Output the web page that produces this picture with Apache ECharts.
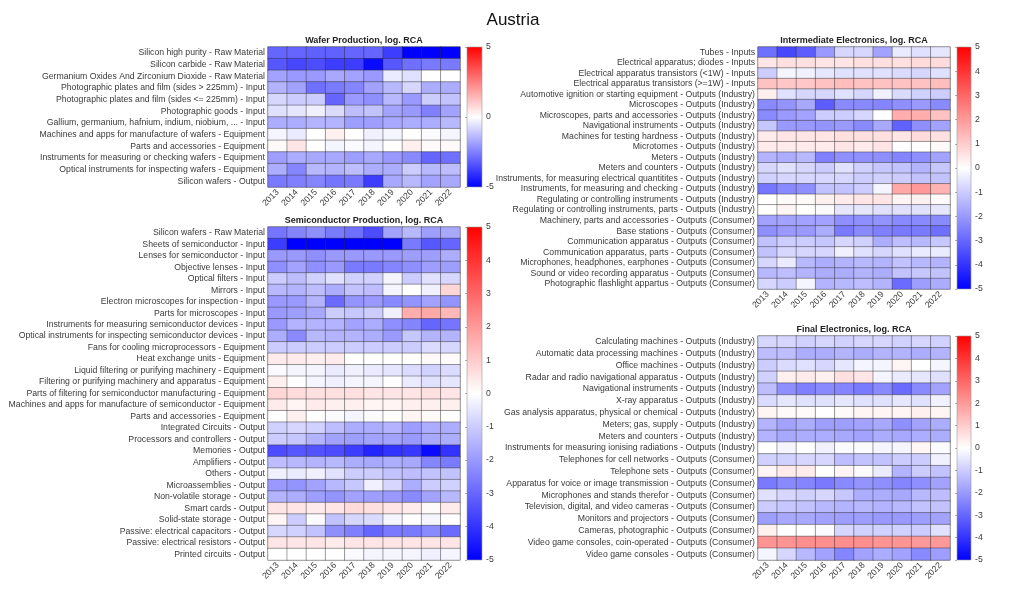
<!DOCTYPE html>
<html><head><meta charset="utf-8">
<script src="https://cdn.jsdelivr.net/npm/echarts@6/dist/echarts.min.js"></script>
<style>html,body{margin:0;padding:0;background:#fff}#c{width:1024px;height:600px}</style>
</head><body><div id="c"></div>
<script>
var years = ['2013','2014','2015','2016','2017','2018','2019','2020','2021','2022'];

var waferRows = [
'Silicon high purity - Raw Material','Silicon carbide - Raw Material','Germanium Oxides And Zirconium Dioxide - Raw Material',
'Photographic plates and film (sides > 225mm) - Input','Photographic plates and film (sides <= 225mm) - Input','Photographic goods - Input',
'Gallium, germanium, hafnium, indium, niobium, ... - Input','Machines and apps for manufacture of wafers - Equipment','Parts and accessories - Equipment',
'Instruments for measuring or checking wafers - Equipment','Optical instruments for inspecting wafers - Equipment','Silicon wafers - Output'];
var waferValues = [
[-3.0,-3.0,-3.1,-3.1,-3.0,-3.0,-3.8,-5,-5,-5],
[-3.3,-3.6,-3.5,-3.8,-3.8,-4.8,-3.3,-2.8,-2.6,-2.6],
[-1.8,-2.0,-2.0,-1.7,-1.8,-2.0,-0.4,-0.6,0,0],
[-1.5,-1.8,-2.8,-2.6,-2.4,-1.8,-1.4,-0.8,-1.6,-1.6],
[-0.8,-1.0,-1.0,-3.0,-2.0,-2.2,-1.4,-2.0,-1.0,-1.2],
[-0.6,-0.5,-0.3,-0.7,-1.3,-1.2,-1.8,-2.0,-2.5,-1.8],
[-1.6,-1.6,-1.5,-1.5,-1.9,-1.9,-1.7,-1.6,-1.6,-1.4],
[-0.2,-0.4,0,0.3,0,-0.3,-0.2,0,-0.1,-0.2],
[0.1,0.5,0,-0.2,-0.1,-0.2,0,0.3,0.1,0.1],
[-1.9,-1.6,-1.7,-1.7,-1.9,-1.7,-2.0,-2.3,-3.0,-2.8],
[-1.6,-2.4,-1.4,-1.5,-1.3,-1.6,-1.6,-1.0,-1.4,-1.3],
[-2.6,-2.5,-2.4,-2.7,-2.6,-3.8,-1.7,-1.4,-1.8,-1.7]];

var semiRows = [
'Silicon wafers - Raw Material','Sheets of semiconductor - Input','Lenses for semiconductor - Input','Objective lenses - Input',
'Optical filters - Input','Mirrors - Input','Electron microscopes for inspection - Input','Parts for microscopes - Input',
'Instruments for measuring semiconductor devices - Input','Optical instruments for inspecting semiconductor devices - Input',
'Fans for cooling microprocessors - Equipment','Heat exchange units - Equipment','Liquid filtering or purifying machinery - Equipment',
'Filtering or purifying machinery and apparatus - Equipment','Parts of filtering for semiconductor manufacturing - Equipment',
'Machines and apps for manufacture of semiconductor - Equipment','Parts and accessories - Equipment','Integrated Circuits - Output',
'Processors and controllers - Output','Memories - Output','Amplifiers - Output','Others - Output','Microassemblies - Output',
'Non-volatile storage - Output','Smart cards - Output','Solid-state storage - Output','Passive: electrical capacitors - Output',
'Passive: electrical resistors - Output','Printed circuits - Output'];
var semiValues = [
[-2.7,-2.4,-2.2,-2.6,-2.8,-3.5,-1.8,-1.4,-1.9,-1.7],
[-3.8,-5,-5,-5,-5,-5,-5,-2.6,-3.3,-3.0],
[-2.0,-2.0,-2.2,-2.0,-2.0,-2.0,-2.0,-1.9,-1.9,-1.6],
[-2.2,-1.8,-2.2,-2.0,-2.6,-2.6,-2.4,-2.2,-1.9,-1.9],
[-1.0,-1.3,-0.9,-0.6,-0.9,-0.9,-0.2,-1.0,-0.6,-0.8],
[-1.4,-1.5,-1.3,-1.6,-1.2,-1.3,-0.2,0,-0.3,0.8],
[-2.0,-2.0,-1.5,-2.9,-2.1,-2.0,-2.3,-2.1,-1.8,-2.1],
[-2.0,-1.9,-1.7,-1.0,-1.1,-1.0,-0.3,1.6,1.7,1.4],
[-2.0,-1.5,-1.5,-1.5,-1.8,-1.6,-2.2,-2.4,-3.0,-2.7],
[-1.6,-2.3,-1.4,-1.5,-1.5,-1.6,-2.0,-1.1,-1.5,-1.5],
[-1.0,-1.0,-1.0,-1.0,-1.0,-1.0,-1.0,-1.0,-0.7,-0.8],
[0.4,0.4,0.3,0.4,0,0,0,0,0.1,0.1],
[-0.1,-0.2,-0.2,-0.4,-0.3,-0.4,-0.5,-0.7,-0.9,-0.7],
[0.3,0,-0.2,-0.3,-0.2,-0.2,0,-0.4,-0.6,-0.5],
[0.8,0.7,0.6,0.6,0.6,0.5,0.5,0.5,0.6,0.5],
[0.4,0.2,0.4,0.3,0.3,0.2,0.2,0.3,0.3,0.3],
[0,0.3,0,-0.1,-0.2,-0.1,0,0.2,0.1,0],
[-0.9,-0.8,-0.9,-1.3,-1.6,-1.6,-1.5,-1.9,-1.6,-1.6],
[-1.0,-1.1,-1.5,-1.8,-1.9,-1.8,-1.8,-2.0,-1.7,-1.6],
[-3.5,-3.3,-3.4,-3.5,-3.8,-4.3,-4.0,-3.9,-4.8,-4.0],
[-1.3,-1.4,-1.5,-1.4,-1.6,-1.7,-1.6,-1.7,-2.4,-2.6],
[-0.3,-0.4,-0.3,-0.6,-1.0,-1.0,-1.2,-1.3,-1.2,-1.2],
[-2.0,-2.1,-1.8,-1.4,-1.1,-0.3,-0.8,-1.6,-1.0,-0.9],
[-1.5,-1.6,-1.9,-2.1,-1.8,-1.9,-2.0,-2.3,-1.8,-1.4],
[0.5,0.5,0.4,0.5,0.7,0.6,0.5,0.4,0.1,0.4],
[0.2,-1.0,-0.1,-1.2,-0.8,-0.7,-0.2,0,-0.2,0],
[-0.8,-0.9,-1.2,-2.2,-2.5,-3.0,-2.6,-2.6,-2.3,-2.9],
[0.5,0.5,0.5,0.4,0.5,0.5,0.5,0.5,0.5,0.5],
[0,0,0,0,-0.1,-0.2,-0.2,-0.2,-0.3,-0.2]];

var interRows = [
'Tubes - Inputs','Electrical apparatus; diodes - Inputs','Electrical apparatus transistors (<1W) - Inputs',
'Electrical apparatus transistors (>=1W) - Inputs','Automotive ignition or starting equipment - Outputs (Industry)',
'Microscopes - Outputs (Industry)','Microscopes, parts and accessories - Outputs (Industry)','Navigational instruments - Outputs (Industry)',
'Machines for testing hardness - Outputs (Industry)','Microtomes - Outputs (Industry)','Meters - Outputs (Industry)',
'Meters and counters - Outputs (Industry)','Instruments, for measuring electrical quantitites - Outputs (Industry)',
'Instruments, for measuring and checking - Outputs (Industry)','Regulating or controlling instruments - Outputs (Industry)',
'Regulating or controlling instruments, parts - Outputs (Industry)','Machinery, parts and accessories - Outputs (Consumer)',
'Base stations - Outputs (Consumer)','Communication apparatus - Outputs (Consumer)','Communication apparatus, parts - Outputs (Consumer)',
'Microphones, headphones, earphones - Outputs (Consumer)','Sound or video recording apparatus - Outputs (Consumer)',
'Photographic flashlight appartus - Outputs (Consumer)'];
var interValues = [
[-2.8,-3.6,-3.2,-2.0,-0.8,-0.8,-1.8,-0.4,-0.6,-0.5],
[0.5,0.6,0.6,0.5,0.5,0.6,0.6,0.6,0.7,0.7],
[-1.0,-0.2,-0.3,-0.5,-0.6,-0.6,-0.6,-0.7,-0.8,-0.6],
[1.2,1.1,1.1,1.2,1.3,1.2,1.2,1.2,1.2,1.3],
[0.3,-0.6,-0.8,-0.8,-0.6,-0.8,-0.3,-0.7,-0.9,-1.0],
[-2.3,-2.1,-1.7,-3.2,-2.3,-2.3,-2.4,-2.2,-2.0,-2.3],
[-2.3,-2.0,-1.8,-1.0,-1.0,-0.8,0,1.6,1.6,1.2],
[-1.1,-2.0,-2.0,-2.1,-2.0,-2.3,-1.7,-3.1,-2.2,-1.8],
[0.4,0.5,0.5,0.5,0.6,0.6,0.6,0.5,0.7,0.6],
[0.4,0.4,0.4,0.4,0.5,0.4,0.5,0,0,0.1],
[-1.5,-1.6,-1.4,-2.5,-2.2,-2.2,-2.2,-2.4,-2.2,-1.8],
[-0.8,-0.6,-0.8,-1.0,-0.6,-0.9,-1.1,-1.2,-1.5,-1.1],
[-0.9,-0.8,-0.8,-0.8,-0.8,-1.0,-0.9,-1.0,-1.2,-1.2],
[-2.7,-2.3,-2.2,-1.2,-1.2,-1.0,-0.2,1.7,2.0,1.5],
[0,0.1,0.1,0.3,0.4,0.5,0.5,0.2,0.3,0.1],
[0,0.2,0,-0.1,-0.5,-0.5,-0.6,-0.6,-0.6,-0.5],
[-1.8,-1.8,-1.8,-1.8,-2.2,-2.2,-2.1,-2.3,-2.3,-2.3],
[-2.2,-2.0,-2.0,-1.6,-2.6,-2.3,-2.5,-2.6,-2.6,-2.8],
[-1.2,-1.0,-1.0,-1.1,-0.8,-0.9,-1.6,-1.3,-1.4,-1.1],
[-1.2,-0.8,-0.8,-0.8,-0.3,-0.6,-0.8,-0.6,-0.4,-0.4],
[-0.8,-0.4,-1.4,-1.6,-1.5,-1.4,-1.5,-1.2,-1.4,-1.5],
[-1.4,-1.3,-1.5,-1.6,-1.6,-1.5,-1.6,-1.2,-1.1,-1.2],
[-0.8,-1.0,-0.2,-1.5,-1.4,-1.3,-1.5,-2.9,-1.9,-1.6]];

var finalRows = [
'Calculating machines - Outputs (Industry)','Automatic data processing machines - Outputs (Industry)','Office machines - Outputs (Industry)',
'Radar and radio navigational apparatus - Outputs (Industry)','Navigational instruments - Outputs (Industry)','X-ray apparatus - Outputs (Industry)',
'Gas analysis apparatus, physical or chemical - Outputs (Industry)','Meters; gas, supply - Outputs (Industry)','Meters and counters - Outputs (Industry)',
'Instruments for measuring ionising radiations - Outputs (Industry)','Telephones for cell networks - Outputs (Consumer)',
'Telephone sets - Outputs (Consumer)','Apparatus for voice or image transmission - Outputs (Consumer)','Microphones and stands therefor - Outputs (Consumer)',
'Television, digital, and video cameras - Outputs (Consumer)','Monitors and projectors - Outputs (Consumer)','Cameras, photographic - Outputs (Consumer)',
'Video game consoles, coin-operated - Outputs (Consumer)','Video game consoles - Outputs (Consumer)'];
var finalValues = [
[-0.8,-0.8,-0.9,-0.8,-0.9,-0.8,-0.8,-0.9,-0.8,-0.9],
[-1.3,-1.3,-1.6,-1.6,-1.5,-1.6,-1.5,-1.5,-1.6,-1.5],
[-1.0,-0.7,-0.6,-0.8,-0.5,-0.2,-0.2,0.2,0,-0.2],
[-0.9,0.3,0.4,0.3,0.6,0.5,-0.2,-0.4,-0.5,-0.6],
[-1.3,-2.2,-2.5,-2.3,-2.4,-2.6,-2.3,-2.9,-2.3,-1.8],
[-0.7,-0.5,-0.6,-0.6,-0.5,-0.6,-0.6,-0.5,-0.6,-0.3],
[0.2,0.1,0.1,0,0.1,0.2,0.2,0.2,0.3,0.2],
[-1.5,-1.8,-1.6,-1.9,-1.9,-1.8,-1.7,-2.2,-1.8,-1.6],
[-1.5,-1.7,-1.6,-1.6,-1.7,-1.8,-1.6,-1.7,-1.6,-1.6],
[0,-0.2,0,-0.3,-0.1,-0.1,-0.2,-0.2,0.2,-0.1],
[-0.9,-0.9,-0.8,-0.8,-1.3,-1.2,-1.2,-1.0,-1.0,-0.3],
[0.2,0.4,0.4,0,0.2,-0.1,-0.4,-1.5,-1.0,-1.2],
[-2.6,-2.3,-2.4,-2.6,-2.3,-2.1,-2.2,-2.4,-2.2,-1.8],
[-0.6,-0.8,-0.9,-0.8,-1.1,-1.6,-1.6,-1.7,-1.4,-1.3],
[-1.0,-1.1,-1.2,-1.4,-1.5,-1.4,-1.5,-1.4,-1.2,-1.2],
[-1.9,-1.7,-1.7,-1.8,-1.9,-1.9,-2.0,-2.0,-1.9,-1.8],
[0.3,0,0,-0.1,-0.8,-0.9,-0.9,-0.9,-1.0,-0.6],
[2.1,2.1,2.2,2.2,2.2,2.2,2.1,2.1,2.0,2.0],
[-0.2,-0.8,-1.4,-1.8,-2.4,-1.8,-1.6,-1.8,-2.3,-1.9]];

var panelTitles = ['Wafer Production, log. RCA','Semiconductor Production, log. RCA','Intermediate Electronics, log. RCA','Final Electronics, log. RCA'];
var colorbarTicks = [5, 1, 1, 1];

var FONT = '"Liberation Sans", Arial, Helvetica, sans-serif';
var TXT = '#3a3a3a';
var panels = [
  {rows: waferRows, vals: waferValues, box: {left: 268, top: 47, width: 192, height: 140}, cb: {left: 467, width: 15}},
  {rows: semiRows, vals: semiValues, box: {left: 268, top: 227, width: 192, height: 333}, cb: {left: 467, width: 15}},
  {rows: interRows, vals: interValues, box: {left: 758, top: 47, width: 192, height: 242}, cb: {left: 957, width: 14}},
  {rows: finalRows, vals: finalValues, box: {left: 758, top: 336, width: 192, height: 224}, cb: {left: 957, width: 14}}
];

var grids = [], xAxes = [], yAxes = [], series = [], titles = [];
titles.push({text: 'Austria', left: 513, top: 12, textAlign: 'center', padding: 0,
  textStyle: {fontSize: 17, fontWeight: 'normal', color: '#111', fontFamily: FONT}});

panels.forEach(function (p, i) {
  grids.push({left: p.box.left, top: p.box.top, width: p.box.width, height: p.box.height,
    show: true, borderColor: '#8a8a8a', borderWidth: 0.6, backgroundColor: 'transparent', outerBoundsMode: 'none'});
  xAxes.push({type: 'category', gridIndex: i, data: years, position: 'bottom',
    axisLine: {show: false}, axisTick: {show: false}, splitLine: {show: false},
    axisLabel: {rotate: 45, fontSize: 8.7, color: TXT, margin: 4, fontFamily: FONT, interval: 0}});
  yAxes.push({type: 'category', gridIndex: i, data: p.rows, inverse: true,
    axisLine: {show: false}, axisTick: {show: false}, splitLine: {show: false},
    axisLabel: {fontSize: 8.7, color: TXT, margin: 3, fontFamily: FONT, interval: 0}});
  var data = [];
  p.vals.forEach(function (row, r) {
    row.forEach(function (v, c) { data.push([c, r, v]); });
  });
  series.push({type: 'heatmap', xAxisIndex: i, yAxisIndex: i, data: data,
    itemStyle: {borderColor: 'rgba(40,40,40,0.7)', borderWidth: 0.6},
    emphasis: {disabled: true}, progressive: 0, animation: false});
  titles.push({text: panelTitles[i], left: p.box.left + p.box.width / 2, top: p.box.top - 11, textAlign: 'center', padding: 0,
    textStyle: {fontSize: 9, fontWeight: 'bold', color: '#222', fontFamily: FONT}});
});

// colorbars
panels.forEach(function (p, i) {
  var gi = grids.length;
  grids.push({left: p.cb.left, top: p.box.top, width: p.cb.width, height: p.box.height, show: true,
    borderColor: '#9a9a9a', borderWidth: 0.6, outerBoundsMode: 'none',
    backgroundColor: {type: 'linear', x: 0, y: 0, x2: 0, y2: 1,
      colorStops: [{offset: 0, color: '#ff0000'}, {offset: 0.5, color: '#ffffff'}, {offset: 1, color: '#0000ff'}]}});
  xAxes.push({type: 'value', gridIndex: gi, show: false, min: 0, max: 1});
  yAxes.push({type: 'value', gridIndex: gi, min: -5, max: 5, interval: colorbarTicks[i], position: 'right',
    axisLine: {show: false}, splitLine: {show: false},
    axisTick: {show: true, inside: true, length: 2, lineStyle: {color: '#777', width: 0.6}},
    axisLabel: {fontSize: 8.7, color: TXT, margin: 4, fontFamily: FONT}});
});

var option = {
  animation: false,
  backgroundColor: '#ffffff',
  textStyle: {fontFamily: FONT},
  title: titles,
  grid: grids,
  xAxis: xAxes,
  yAxis: yAxes,
  visualMap: {type: 'continuous', show: false, min: -5, max: 5, seriesIndex: [0, 1, 2, 3],
    inRange: {color: ['#0000ff', '#ffffff', '#ff0000']}},
  series: series
};
var chart = echarts.init(document.getElementById('c'), null, {renderer: 'canvas'});
chart.setOption(option);
</script></body></html>
